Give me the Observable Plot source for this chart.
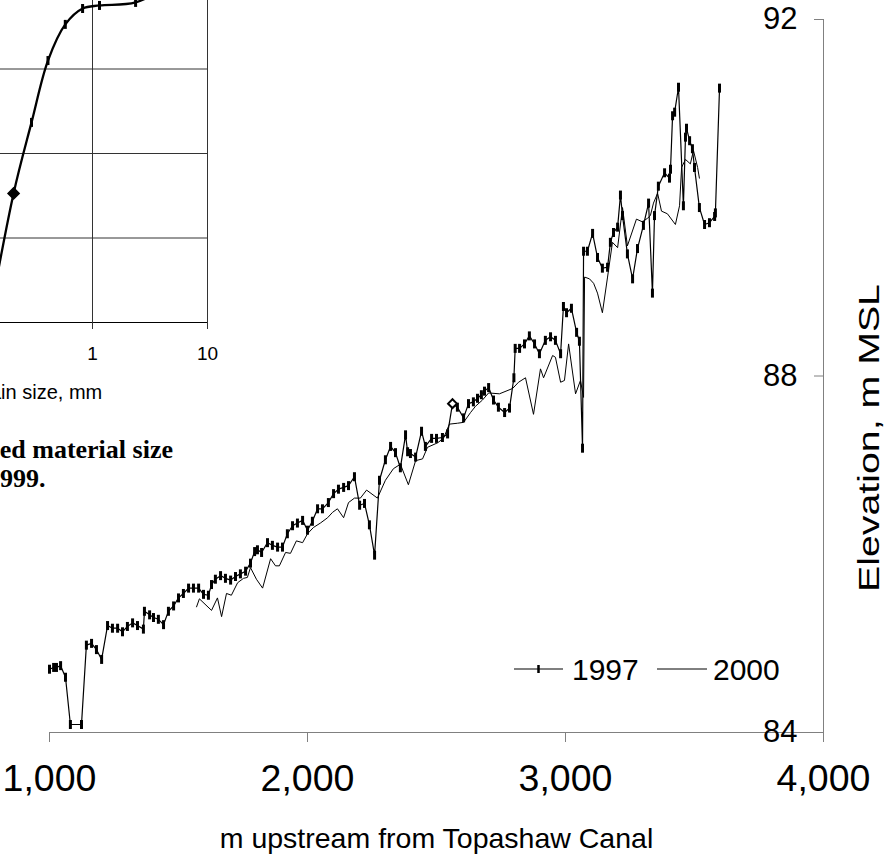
<!DOCTYPE html>
<html>
<head>
<meta charset="utf-8">
<script src="https://cdn.jsdelivr.net/npm/d3@7"></script>
<script src="https://cdn.jsdelivr.net/npm/@observablehq/plot@0.6"></script>
<style>
  html, body { margin: 0; padding: 0; background: #fff; }
  #page { position: relative; width: 895px; height: 854px; overflow: hidden; background: #fff; }
  #page > * { position: absolute; }
</style>
</head>
<body>
<div id="page"></div>
<script>
// ---------- main chart data ----------
const seriesNames = ["1997", "2000"];
const xTicks = [1000, 2000, 3000, 4000];
const yTicks = [84, 88, 92];
const xTitle = "m upstream from Topashaw Canal";
const yTitle = "Elevation, m MSL";

const dist1997 = [1000,1016,1027,1043,1062,1081,1124,1143,1163,1182,
  1202,1225,1244,1264,1283,1302,1322,1341,1364,1368,
  1388,1403,1422,1442,1461,1481,1500,1519,1539,1558,
  1578,1597,1616,1628,1643,1663,1682,1702,1721,1740,
  1760,1779,1795,1806,1822,1845,1864,1884,1903,1922,
  1942,1961,1981,2000,2019,2039,2058,2081,2101,2120,
  2140,2159,2182,2202,2221,2240,2260,2279,2302,2322,
  2341,2360,2380,2388,2399,2419,2442,2457,2481,2500,
  2523,2543,2562,2581,2605,2624,2643,2659,2674,2686,
  2702,2721,2740,2764,2783,2800,2805,2822,2841,2860,
  2880,2899,2922,2942,2961,2981,2992,3004,3023,3043,
  3054,3066,3070,3085,3105,3124,3143,3163,3174,3186,
  3202,3213,3221,3240,3260,3279,3302,3322,3337,3345,
  3360,3384,3403,3407,3415,3423,3438,3457,3465,3469,
  3481,3492,3500,3519,3539,3558,3578,3581,3597];
const elev1997 = [84.71,84.73,84.73,84.75,84.62,84.09,84.09,84.98,85.00,84.93,
  84.82,85.20,85.17,85.17,85.13,85.19,85.23,85.20,85.16,85.36,
  85.32,85.29,85.27,85.21,85.36,85.42,85.51,85.56,85.62,85.62,
  85.62,85.55,85.54,85.66,85.72,85.76,85.73,85.71,85.75,85.78,
  85.81,85.90,86.03,86.05,86.02,86.13,86.10,86.08,86.08,86.23,
  86.32,86.35,86.38,86.27,86.37,86.51,86.51,86.58,86.68,86.73,
  86.75,86.77,86.87,86.55,86.57,86.33,85.99,86.83,87.06,87.21,
  87.14,86.97,87.34,87.15,87.13,87.09,87.38,87.21,87.30,87.30,
  87.31,87.35,87.69,87.65,87.53,87.69,87.71,87.75,87.79,87.83,
  87.87,87.73,87.65,87.59,87.64,87.98,88.31,88.31,88.36,88.45,
  88.36,88.25,88.40,88.44,88.40,88.25,88.78,88.71,88.76,88.49,
  88.39,87.19,89.40,89.40,89.60,89.33,89.21,89.22,89.50,89.61,
  89.67,90.03,89.80,89.37,89.09,89.43,89.69,89.94,88.93,89.80,
  90.13,90.28,90.22,90.32,90.92,90.96,91.24,89.91,90.68,90.78,
  90.64,90.55,90.34,89.89,89.70,89.72,89.79,89.83,91.23];
const hollowDiamondDist1997 = 2562;

const dist2000 = [1570,1581,1628,1651,1667,1686,1705,1729,1752,1767,
  1779,1802,1826,1857,1876,1891,1915,1934,1957,1981,
  2000,2023,2050,2078,2097,2116,2140,2159,2182,2205,
  2229,2271,2302,2333,2360,2391,2419,2446,2465,2504,
  2527,2550,2581,2605,2632,2651,2678,2702,2744,2795,
  2818,2845,2876,2903,2915,2950,2961,2981,2996,3012,
  3039,3058,3070,3074,3093,3109,3124,3143,3163,3182,
  3202,3221,3240,3275,3298,3318,3329,3341,3357,3372,
  3395,3426,3442,3450,3465,3484,3496,3512,3519];
const elev2000 = [85.41,85.50,85.37,85.51,85.30,85.56,85.54,85.68,85.73,85.74,
  85.85,85.72,85.62,85.95,85.87,85.87,86.02,86.01,86.15,86.13,
  86.23,86.30,86.35,86.41,86.47,86.51,86.41,86.58,86.63,86.63,
  86.72,86.63,86.83,86.96,87.01,86.78,87.05,87.07,87.20,87.25,
  87.30,87.46,87.47,87.48,87.59,87.66,87.73,87.81,87.80,87.86,
  87.93,87.98,87.57,88.08,87.98,88.23,88.21,87.93,87.95,88.36,
  87.80,87.95,87.76,89.11,89.09,89.04,88.93,88.71,89.11,89.50,
  89.44,89.89,89.46,89.76,89.73,89.77,89.80,89.94,90.05,89.85,
  89.82,89.70,89.91,90.34,90.43,90.38,90.53,90.34,90.22];

// ---------- inset (grain size) data ----------
const grainSizeMm = [0.125, 0.206, 0.295, 0.41, 0.58, 0.82, 1.15, 2.37, 4.75];
const grainPctFiner = [0, 38.2, 59.2, 77.5, 88.2, 92.9, 93.8, 94.7, 100];
const grainDiamondSize = 0.206;
const grainXTicks = [0.01, 0.1, 1, 10];
const grainYGrid = [0, 25, 50, 75, 100];
const grainXTitle = "Grain size, mm";
const captionLines = ["Figure 7. Bed material size", "distribution, 1999."];

// ---------- build ----------
const axisGray = "#808080";
const font = "'Liberation Sans', Arial, sans-serif";
const barSymbol = {
  draw(ctx) {
    ctx.moveTo(-1.5, -4.5); ctx.lineTo(1.5, -4.5); ctx.lineTo(1.5, 4.5); ctx.lineTo(-1.5, 4.5); ctx.closePath();
  }
};

const data1997 = dist1997.map((d, i) => ({distance: d, elevation: elev1997[i]}));
const data2000 = dist2000.map((d, i) => ({distance: d, elevation: elev2000[i]}));

const main = Plot.plot({
  width: 895, height: 854,
  marginLeft: 49, marginRight: 72, marginTop: 19, marginBottom: 122,
  style: {fontFamily: font, background: "transparent", color: "black", overflow: "visible"},
  x: {domain: [1000, 4000]},
  y: {domain: [84, 92]},
  marks: [
    Plot.ruleY([84], {stroke: axisGray}),
    Plot.ruleX([4000], {stroke: axisGray}),
    Plot.axisX(xTicks, {anchor: "bottom", tickSize: 10, tickPadding: 22, tickFormat: d3.format(","), fontSize: 37.5, stroke: axisGray, fill: "black", label: null}),
    Plot.axisY(yTicks, {anchor: "right", tickSize: 10, dx: -10, tickFormat: () => "", stroke: axisGray, label: null}),
    Plot.axisY(yTicks, {anchor: "right", tickSize: 0, tickPadding: 0, textAnchor: "end", dx: -26, fontSize: 31, tickFormat: d => String(d), fill: "black", label: null}),
    Plot.line(data2000, {x: "distance", y: "elevation", stroke: "black", strokeWidth: 1}),
    Plot.line(data1997, {x: "distance", y: "elevation", stroke: "black", strokeWidth: 1.2}),
    Plot.dot(data1997.filter(d => d.distance !== hollowDiamondDist1997), {x: "distance", y: "elevation", symbol: barSymbol, fill: "black", stroke: "none"}),
    Plot.dot(data1997.filter(d => d.distance === hollowDiamondDist1997), {x: "distance", y: "elevation", symbol: "diamond2", r: 4, fill: "white", stroke: "black", strokeWidth: 2}),
    Plot.text([xTitle], {frameAnchor: "bottom", dy: 115, lineAnchor: "bottom", textAnchor: "middle", fontSize: 28.5, fill: "black"}),
    Plot.text([yTitle], {frameAnchor: "right", dx: 46, dy: 62, rotate: -90, textAnchor: "middle", fontSize: 30, fill: "black"})
  ]
});
// the reference's axis title is stretched along its length
main.querySelectorAll("text").forEach(t => {
  if (t.textContent === yTitle) t.setAttribute("transform", (t.getAttribute("transform") || "") + " scale(1.31,1)");
});
main.style.left = "0px"; main.style.top = "0px";
document.getElementById("page").appendChild(main);

// inset grain-size chart (cropped at the page's top-left)
const grainData = grainSizeMm.map((s, i) => ({size: s, pct: grainPctFiner[i]}));
const inset = Plot.plot({
  width: 377, height: 452,
  marginLeft: 12, marginRight: 20, marginTop: 24, marginBottom: 90,
  style: {fontFamily: font, background: "transparent", color: "black", overflow: "visible"},
  x: {type: "log", domain: [0.01, 10]},
  y: {domain: [0, 100]},
  marks: [
    Plot.gridX(grainXTicks, {stroke: "#333", strokeOpacity: 1}),
    Plot.gridY(grainYGrid, {stroke: "#333", strokeOpacity: 1}),
    Plot.ruleY([0], {stroke: "black"}),
    Plot.axisX(grainXTicks, {anchor: "bottom", tickSize: 7, tickPadding: 17, fontSize: 19, tickFormat: d => String(d), stroke: "#333", fill: "black", label: null}),
    Plot.line(grainData, {x: "size", y: "pct", curve: "catmull-rom", stroke: "black", strokeWidth: 2.3}),
    Plot.dot(grainData.filter(d => d.size !== grainDiamondSize), {x: "size", y: "pct", symbol: barSymbol, fill: "black", stroke: "none"}),
    Plot.dot(grainData.filter(d => d.size === grainDiamondSize), {x: "size", y: "pct", symbol: "diamond2", r: 5, fill: "black", stroke: "black"}),
    Plot.text([grainXTitle], {frameAnchor: "bottom", dy: 76, lineAnchor: "bottom", fontSize: 20, fill: "black"})
  ]
});
inset.style.left = "-150px"; inset.style.top = "-40px";
document.getElementById("page").appendChild(inset);

// caption of the inset figure (bold serif, right part visible)
const cap = d3.create("svg").attr("width", 300).attr("height", 80)
  .style("left", "-120px").style("top", "425px").style("overflow", "visible");
cap.selectAll("text").data(captionLines).join("text")
  .attr("x", (d, i) => i === 0 ? 293 : 165.5)
  .attr("y", (d, i) => 33 + i * 29)
  .attr("text-anchor", "end")
  .style("font-family", "'Liberation Serif', 'Times New Roman', serif")
  .style("font-weight", "bold").style("font-size", "26px")
  .text(d => d);
document.getElementById("page").appendChild(cap.node());

// legend (inside the plot area, no box)
const leg = d3.create("svg").attr("width", 300).attr("height", 50)
  .style("left", "505px").style("top", "645px").style("overflow", "visible");
const legItems = [
  {name: seriesNames[0], x0: 9, x1: 58, marker: true, w: 1.2, tx: 67},
  {name: seriesNames[1], x0: 152, x1: 202, marker: false, w: 1, tx: 208}
];
legItems.forEach(it => {
  leg.append("line").attr("x1", it.x0).attr("x2", it.x1).attr("y1", 24).attr("y2", 24)
    .attr("stroke", "black").attr("stroke-width", it.w);
  if (it.marker) leg.append("rect").attr("x", (it.x0 + it.x1) / 2 - 1.25).attr("y", 20).attr("width", 2.5).attr("height", 8).attr("fill", "black");
  leg.append("text").attr("x", it.tx).attr("y", 35).style("font-family", font).style("font-size", "30px").text(it.name);
});
document.getElementById("page").appendChild(leg.node());
</script>
</body>
</html>
